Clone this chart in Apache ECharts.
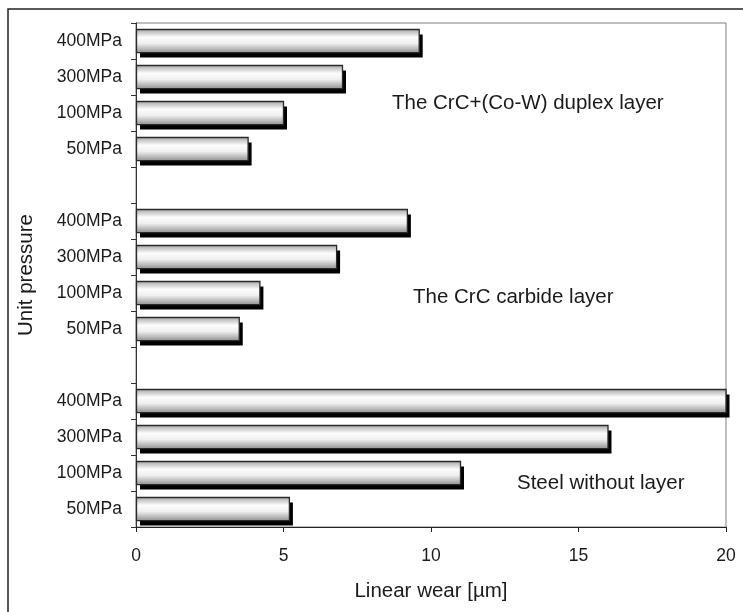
<!DOCTYPE html>
<html>
<head>
<meta charset="utf-8">
<script src="https://cdn.jsdelivr.net/npm/echarts@6/dist/echarts.min.js"></script>
<style>
html,body{margin:0;padding:0;background:#fff;}
#chart{width:743px;height:612px;}
</style>
</head>
<body>
<div id="chart"></div>
<script>
// Tick labels (bottom to top within each group)
const pressures = ['50MPa', '100MPa', '300MPa', '400MPa'];
// Linear wear [µm]
const steelWear = [5.2, 11.0, 16.0, 20.0];
const crcWear = [3.5, 4.2, 6.8, 9.2];
const duplexWear = [3.8, 5.0, 7.0, 9.6];
const groupNames = ['Steel without layer', 'The CrC carbide layer', 'The CrC+(Co-W) duplex layer'];
const xTicks = [0, 5, 10, 15, 20];

const categories = [...pressures, '', ...pressures, '', ...pressures];
const values = [...steelWear, null, ...crcWear, null, ...duplexWear];
const seriesData = [];
values.forEach((v, i) => { if (v !== null) seriesData.push([v, i]); });

const FONT = '"Liberation Sans", Arial, sans-serif';
const chart = echarts.init(document.getElementById('chart'), null, {renderer: 'canvas'});

function renderBar(params, api) {
  const val = api.value(0);
  const cat = api.value(1);
  const p0 = api.coord([0, cat]);
  const p1 = api.coord([val, cat]);
  const band = api.size([0, 1])[1];
  const h = band * 0.64;
  const x = p0[0] + 0.5;
  const y = Math.round(p0[1] - h / 2) + 0.5;
  const w = p1[0] - p0[0] - 0.5;
  return {
    type: 'group',
    children: [
      {type: 'rect', shape: {x: x + 3.5, y: y + 5, width: w, height: h}, style: {fill: '#000'}},
      {type: 'rect', shape: {x: x, y: y, width: w, height: h},
       style: {
         fill: new echarts.graphic.LinearGradient(0, 0, 0, 1, [
           {offset: 0, color: '#a4a4a4'},
           {offset: 0.35, color: '#fdfdfd'},
           {offset: 0.6, color: '#efefef'},
           {offset: 1, color: '#8e8e8e'}
         ]),
         stroke: '#2a2a2a', lineWidth: 1.3
       }},
      {type: 'rect', shape: {x: x + 1.6, y: y + 1.6, width: Math.max(0, w - 3.2), height: h - 3.2},
       style: {fill: 'none', stroke: 'rgba(255,255,255,0.0)', lineWidth: 0}}
    ]
  };
}

chart.setOption({
  animation: false,
  backgroundColor: '#fff',
  grid: {left: 136, right: 17, top: 23, bottom: 85, show: true, borderColor: '#808080', borderWidth: 1, containLabel: false},
  xAxis: {
    type: 'value', min: xTicks[0], max: xTicks[xTicks.length - 1], interval: 5,
    name: 'Linear wear [µm]', nameLocation: 'middle', nameGap: 54,
    nameTextStyle: {fontFamily: FONT, fontSize: 20.5, color: '#1a1a1a'},
    axisLine: {show: true, lineStyle: {color: '#222', width: 1}},
    axisTick: {show: true, length: 5, inside: false, lineStyle: {color: '#222'}},
    axisLabel: {fontFamily: FONT, fontSize: 17.5, color: '#1a1a1a', margin: 20},
    splitLine: {show: false}
  },
  yAxis: {
    type: 'category', data: categories,
    name: 'Unit pressure', nameLocation: 'middle', nameGap: 99,
    nameTextStyle: {fontFamily: FONT, fontSize: 20.5, color: '#1a1a1a'},
    axisLine: {show: true, lineStyle: {color: '#333', width: 1}},
    axisTick: {show: true, length: 5, inside: false, alignWithLabel: false, interval: 0, lineStyle: {color: '#333'}},
    axisLabel: {fontFamily: FONT, fontSize: 17.5, color: '#1a1a1a', margin: 14, interval: 0},
    splitLine: {show: false}
  },
  series: [{
    type: 'custom',
    renderItem: renderBar,
    encode: {x: 0, y: 1},
    data: seriesData,
    clip: false
  }],
  graphic: [
    {type: 'rect', shape: {x: 8, y: 9, width: 900, height: 900}, style: {fill: 'none', stroke: '#222', lineWidth: 1.5}, silent: true},
    {type: 'text', x: 392, y: 103, style: {text: groupNames[2], font: '20.5px ' + FONT, fill: '#1a1a1a', verticalAlign: 'middle'}},
    {type: 'text', x: 413, y: 297, style: {text: groupNames[1], font: '20.5px ' + FONT, fill: '#1a1a1a', verticalAlign: 'middle'}},
    {type: 'text', x: 517, y: 483, style: {text: groupNames[0], font: '20.5px ' + FONT, fill: '#1a1a1a', verticalAlign: 'middle'}}
  ]
});
</script>
</body>
</html>
